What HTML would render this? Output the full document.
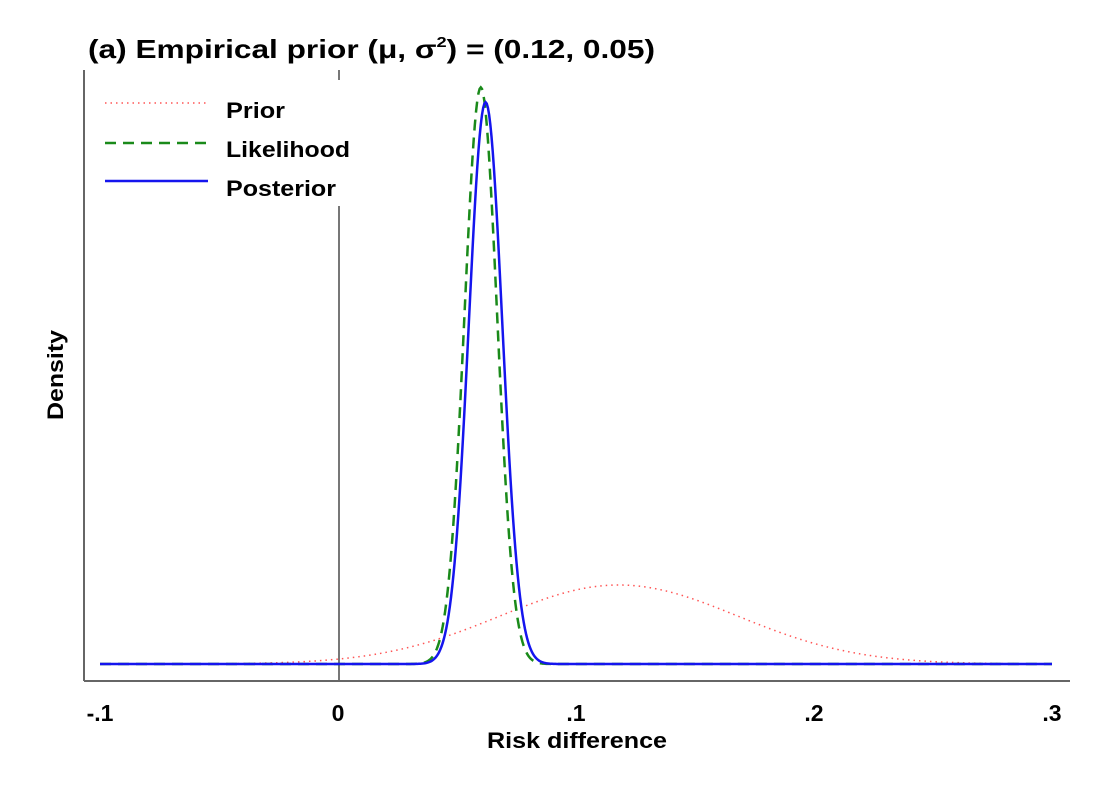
<!DOCTYPE html>
<html><head><meta charset="utf-8"><style>
html,body{margin:0;padding:0;background:#fff;}
svg text{font-family:"Liberation Sans",sans-serif;font-weight:bold;fill:#000;}
</style></head><body>
<svg id="chart" width="1098" height="799" viewBox="0 0 1098 799">
<text x="88" y="58" font-size="26" textLength="567" lengthAdjust="spacingAndGlyphs">(a) Empirical prior (μ, σ<tspan font-size="15" dy="-11">2</tspan><tspan dy="11">) = (0.12, 0.05)</tspan></text>
<line x1="339" y1="70" x2="339" y2="681" stroke="#777" stroke-width="2"/>
<g id="curves"></g>
<rect x="95" y="80" width="260" height="126" fill="#fff"/>
<g>
<line x1="105" y1="103" x2="208" y2="103" stroke="#f55" stroke-width="1.5" stroke-dasharray="1.5,4"/>
<text x="226" y="118" font-size="22" textLength="59" lengthAdjust="spacingAndGlyphs">Prior</text>
<line x1="105" y1="143" x2="208" y2="143" stroke="#1a8a1a" stroke-width="2.5" stroke-dasharray="11,7"/>
<text x="226" y="157" font-size="22" textLength="124" lengthAdjust="spacingAndGlyphs">Likelihood</text>
<line x1="105" y1="181" x2="208" y2="181" stroke="#1515ee" stroke-width="2.5"/>
<text x="226" y="196" font-size="22" textLength="110" lengthAdjust="spacingAndGlyphs">Posterior</text>
</g>
<line x1="84" y1="70" x2="84" y2="681" stroke="#666" stroke-width="2"/>
<line x1="84" y1="681" x2="1070" y2="681" stroke="#666" stroke-width="2"/>
<g id="ticks"></g>
<text x="577" y="748" font-size="22" text-anchor="middle" textLength="180" lengthAdjust="spacingAndGlyphs">Risk difference</text>
<text transform="translate(63,375) rotate(-90)" font-size="22" text-anchor="middle" textLength="90" lengthAdjust="spacingAndGlyphs">Density</text>
</svg>
<script>
const seriesNames = ['prior','likelihood','posterior'];
const seriesMeans = [0.118, 0.060, 0.062];
const seriesSDs = [0.050, 0.00685, 0.00703];
const seriesColors = ['#f55','#1a8a1a','#1515ee'];
const xTickValues = [-0.1, 0, 0.1, 0.2, 0.3];
const xTickLabels = ['-.1','0','.1','.2','.3'];
const xDomain = [-0.1, 0.3];
const ns='http://www.w3.org/2000/svg';
function xs(v){return 100+(v-xDomain[0])/(xDomain[1]-xDomain[0])*952;}
function ys(d){return 664-d*9.9;}
const dashes=['1.5,4','11,7',''];
const widths=[1.5,2.5,2.5];
const g=document.getElementById('curves');
seriesNames.forEach((n,i)=>{
  let pts=[];
  for(let k=0;k<=800;k++){
    const x=xDomain[0]+(xDomain[1]-xDomain[0])*k/800;
    const z=(x-seriesMeans[i])/seriesSDs[i];
    const d=Math.exp(-0.5*z*z)/(seriesSDs[i]*Math.sqrt(2*Math.PI));
    pts.push(xs(x).toFixed(2)+','+ys(d).toFixed(2));
  }
  const p=document.createElementNS(ns,'polyline');
  p.setAttribute('points',pts.join(' '));
  p.setAttribute('fill','none');
  p.setAttribute('stroke',seriesColors[i]);
  p.setAttribute('stroke-width',widths[i]);
  if(dashes[i])p.setAttribute('stroke-dasharray',dashes[i]);
  
  
  g.appendChild(p);
});
const tg=document.getElementById('ticks');
xTickValues.forEach((v,i)=>{
  const t=document.createElementNS(ns,'text');
  t.setAttribute('x',xs(v));
  t.setAttribute('y',721);
  t.setAttribute('font-size',23);
  t.setAttribute('text-anchor','middle');
  t.textContent=xTickLabels[i];
  
  
  tg.appendChild(t);
});
</script>
</body></html>
